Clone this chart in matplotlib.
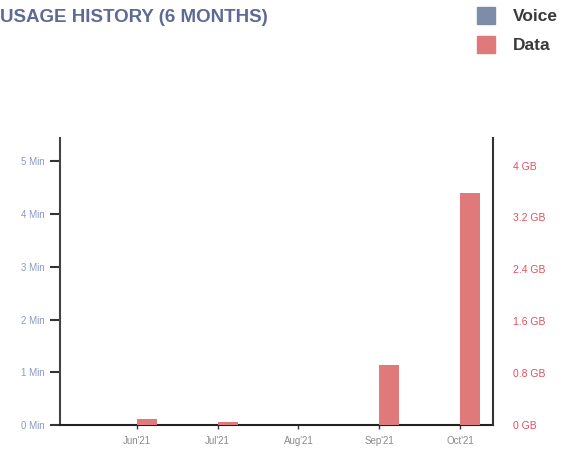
import numpy as np
from matplotlib import pyplot as plt

# данные графика
months = ["Jun'21", "Jul'21", "Aug'21", "Sep'21", "Oct'21"]
voice_min = [0, 0, 0, 0, 0]
data_gb = [0.09, 0.05, 0.0, 0.92, 3.57]
min_ticks = [0, 1, 2, 3, 4, 5]
gb_ticks = [0, 0.8, 1.6, 2.4, 3.2, 4]
gb_labels = ['0 GB', '0.8 GB', '1.6 GB', '2.4 GB', '3.2 GB', '4 GB']

VOICE_COLOR = '#7d8ca8'
DATA_COLOR = '#e07a7a'

plt.rcParams['font.family'] = ['Liberation Sans', 'DejaVu Sans']

fig = plt.figure(figsize=(5.81, 4.61), dpi=100)
ax = fig.add_axes([0.103, 0.078, 0.746, 0.622])
ax2 = ax.twinx()

x = np.arange(len(months))
ax.bar(x, voice_min, width=-0.25, align='edge', color=VOICE_COLOR)
ax2.bar(x, data_gb, width=0.25, align='edge', color=DATA_COLOR)

ax.set_xlim(-0.95, 4.41)
ax.set_ylim(0, 5.44)
ax2.set_ylim(0, 4.42)

ax.set_xticks(x)
ax.set_xticklabels(months, fontsize=7, color='#8a8a8a')
ax.set_yticks(min_ticks)
ax.set_yticklabels([f'{v} Min' for v in min_ticks], fontsize=7, color='#8c98c4')
ax2.set_yticks(gb_ticks)
ax2.set_yticklabels(gb_labels, fontsize=7.5, color='#e0505e')

ax.tick_params(axis='y', length=7, width=1.5, color='#333333', pad=4)
ax.tick_params(axis='x', length=3, width=1, color='#333333', pad=5)
ax2.tick_params(axis='y', length=0, pad=14)

for a in (ax, ax2):
    a.spines['top'].set_visible(False)
    a.set_facecolor('none')
ax2.spines['left'].set_visible(False)
ax2.spines['bottom'].set_visible(False)
ax.spines['right'].set_visible(False)
ax.spines['left'].set_color('#444444')
ax.spines['left'].set_linewidth(1.5)
ax.spines['bottom'].set_color('#222222')
ax.spines['bottom'].set_linewidth(1.5)
ax2.spines['right'].set_color('#333333')
ax2.spines['right'].set_linewidth(1.5)

fig.text(0.0, 0.962, 'USAGE HISTORY (6 MONTHS)', fontsize=13.5,
         fontweight='bold', color='#5d6a95', va='center')

# легенда
fig.patches.append(plt.Rectangle((0.821, 0.948), 0.031, 0.037, color=VOICE_COLOR,
                                 transform=fig.transFigure, figure=fig))
fig.patches.append(plt.Rectangle((0.821, 0.885), 0.031, 0.037, color=DATA_COLOR,
                                 transform=fig.transFigure, figure=fig))
fig.text(0.883, 0.964, 'Voice', fontsize=12.5, fontweight='bold',
         color='#3a3a3a', va='center')
fig.text(0.883, 0.902, 'Data', fontsize=12.5, fontweight='bold',
         color='#3a3a3a', va='center')

plt.savefig('out.png', dpi=100)
